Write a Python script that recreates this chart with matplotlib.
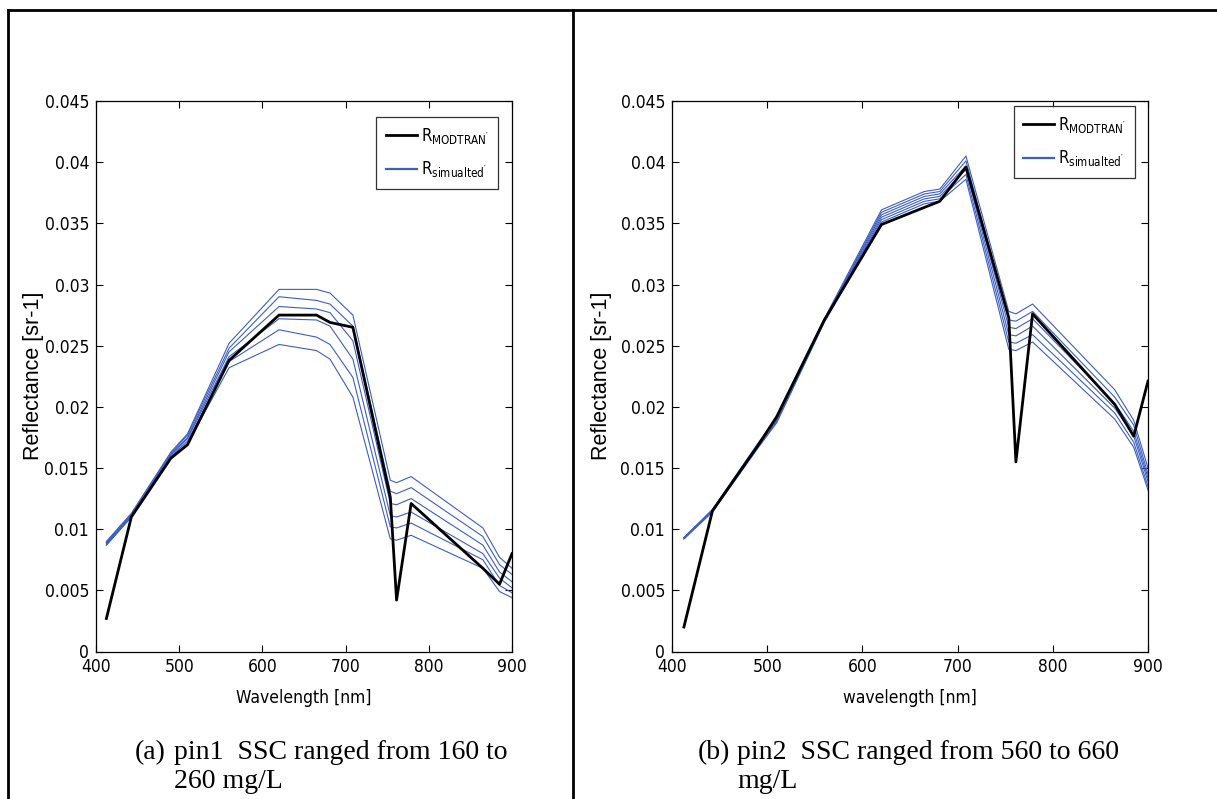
import numpy as np
import matplotlib
matplotlib.use("Agg")
import matplotlib.pyplot as plt
from matplotlib.lines import Line2D
from matplotlib import font_manager
from matplotlib.font_manager import FontProperties

# MERIS band centres [nm]
wavelength = [412.5, 442.5, 490, 510, 560, 620, 665, 681.25, 708.75,
              753.75, 761.25, 778.75, 865, 885, 900]

# pin1: MODTRAN reflectance and simulated curves for SSC 160..260 mg/L
ssc_pin1 = [160, 180, 200, 220, 240, 260]
modtran_pin1 = [0.0027, 0.0110, 0.0158, 0.0169, 0.0238, 0.0275, 0.0275, 0.0269, 0.0265,
                0.0126, 0.0042, 0.0121, 0.0068, 0.0055, 0.0080]
sim_pin1_160 = [0.0087, 0.0110, 0.0158, 0.0170, 0.0232, 0.0251, 0.0246, 0.0239, 0.0208,
                0.0092, 0.0091, 0.0095, 0.0068, 0.0049, 0.0044]
sim_pin1_180 = [0.0087, 0.0110, 0.0159, 0.0172, 0.0237, 0.0263, 0.0257, 0.0251, 0.0224,
                0.0102, 0.0101, 0.0105, 0.0075, 0.0054, 0.0048]
sim_pin1_200 = [0.0088, 0.0111, 0.0160, 0.0174, 0.0241, 0.0272, 0.0271, 0.0266, 0.0239,
                0.0111, 0.0110, 0.0114, 0.0080, 0.0060, 0.0052]
sim_pin1_220 = [0.0089, 0.0112, 0.0161, 0.0175, 0.0245, 0.0282, 0.0280, 0.0277, 0.0254,
                0.0121, 0.0120, 0.0125, 0.0087, 0.0065, 0.0057]
sim_pin1_240 = [0.0089, 0.0112, 0.0162, 0.0177, 0.0248, 0.0290, 0.0287, 0.0284, 0.0266,
                0.0131, 0.0129, 0.0134, 0.0094, 0.0071, 0.0063]
sim_pin1_260 = [0.0090, 0.0113, 0.0163, 0.0178, 0.0252, 0.0296, 0.0296, 0.0293, 0.0275,
                0.0140, 0.0138, 0.0143, 0.0101, 0.0077, 0.0068]

# pin2: SSC 560..660 mg/L
ssc_pin2 = [560, 580, 600, 620, 640, 660]
modtran_pin2 = [0.0020, 0.0115, 0.0168, 0.0192, 0.0271, 0.0349, 0.0363, 0.0368, 0.0396,
                0.0273, 0.0155, 0.0276, 0.0202, 0.0176, 0.0221]
sim_pin2_560 = [0.0092, 0.0114, 0.0166, 0.0187, 0.0269, 0.0351, 0.0366, 0.0368, 0.0386,
                0.0247, 0.0246, 0.0253, 0.0190, 0.0167, 0.0132]
sim_pin2_580 = [0.0092, 0.0115, 0.0167, 0.0188, 0.0270, 0.0353, 0.0368, 0.0370, 0.0390,
                0.0253, 0.0252, 0.0259, 0.0195, 0.0171, 0.0135]
sim_pin2_600 = [0.0093, 0.0115, 0.0168, 0.0189, 0.0270, 0.0355, 0.0370, 0.0372, 0.0394,
                0.0259, 0.0258, 0.0266, 0.0199, 0.0176, 0.0139]
sim_pin2_620 = [0.0093, 0.0115, 0.0168, 0.0190, 0.0271, 0.0357, 0.0372, 0.0374, 0.0397,
                0.0265, 0.0264, 0.0272, 0.0203, 0.0180, 0.0142]
sim_pin2_640 = [0.0093, 0.0116, 0.0169, 0.0190, 0.0271, 0.0359, 0.0374, 0.0376, 0.0401,
                0.0271, 0.0270, 0.0278, 0.0208, 0.0185, 0.0145]
sim_pin2_660 = [0.0093, 0.0116, 0.0170, 0.0191, 0.0272, 0.0361, 0.0376, 0.0378, 0.0405,
                0.0278, 0.0276, 0.0284, 0.0214, 0.0189, 0.0150]

sim_pin1 = [sim_pin1_160, sim_pin1_180, sim_pin1_200, sim_pin1_220, sim_pin1_240, sim_pin1_260]
sim_pin2 = [sim_pin2_560, sim_pin2_580, sim_pin2_600, sim_pin2_620, sim_pin2_640, sim_pin2_660]

xticks = [400, 500, 600, 700, 800, 900]
yticks = [0, 0.005, 0.01, 0.015, 0.02, 0.025, 0.03, 0.035, 0.04, 0.045]
ytick_labels = ["0", "0.005", "0.01", "0.015", "0.02", "0.025", "0.03", "0.035", "0.04", "0.045"]


def find_narrow_font():
    # look for a condensed sans face; fall back to a smaller regular one
    fonts = font_manager.fontManager.ttflist
    for f in fonts:
        if f.name == "Liberation Sans Narrow" and f.weight in (400, "normal") and f.style == "normal":
            return f.fname, 13.5
    for f in fonts:
        if "DejaVu Sans" in f.name and str(f.stretch) == "condensed" \
                and f.weight in (400, "normal") and f.style == "normal":
            return f.fname, 12.5
    return None, 11.5


narrow_file, NARROW_SIZE = find_narrow_font()
if narrow_file:
    NARROW = FontProperties(fname=narrow_file, size=NARROW_SIZE)
else:
    NARROW = FontProperties(family=["Liberation Sans", "DejaVu Sans"], size=NARROW_SIZE)
SANS = ["Liberation Sans", "DejaVu Sans"]
SERIF = ["Liberation Serif", "DejaVu Serif"]

BLUE = "#3d5ec2"
W, H = 1217, 799


def draw_panel(ax, modtran, sims, xlabel, legend_anchor):
    for sim in sims:
        ax.plot(wavelength, sim, color=BLUE, lw=0.8)
    ax.plot(wavelength, modtran, color="black", lw=2.0)
    ax.set_xlim(400, 900)
    ax.set_ylim(0, 0.045)
    ax.set_xticks(xticks)
    ax.set_yticks(yticks)
    ax.set_xticklabels([str(t) for t in xticks], fontproperties=NARROW)
    ax.set_yticklabels(ytick_labels, fontproperties=NARROW)
    ax.tick_params(direction="in", top=True, right=True, length=5, width=0.8, pad=5)
    for s in ax.spines.values():
        s.set_linewidth(0.9)
    ax.set_xlabel(xlabel, fontproperties=NARROW, labelpad=9)
    ax.set_ylabel("Reflectance [sr-1]", family=SANS, fontsize=15.5)
    ax.yaxis.set_label_coords(-0.126, 0.5)

    handles = [Line2D([], [], color="black", lw=2.0),
               Line2D([], [], color=BLUE, lw=1.6)]
    labels = [r"$\mathregular{R_{MODTRAN^{\prime}}}$", r"$\mathregular{R_{simualted^{\prime}}}$"]
    leg_font = NARROW.copy()
    leg_font.set_size(NARROW_SIZE - 0.5)
    leg = ax.legend(handles, labels, loc="upper right", bbox_to_anchor=legend_anchor,
                    frameon=True, fancybox=False, edgecolor="black", prop=leg_font,
                    handlelength=1.9, handletextpad=0.2, borderpad=0.55, labelspacing=0.8,
                    borderaxespad=0)
    leg.get_frame().set_linewidth(0.9)


fig = plt.figure(figsize=(W / 100, H / 100), dpi=100)

ax1 = fig.add_axes([96 / W, 1 - 651.5 / H, (512 - 96) / W, (651.5 - 101) / H])
draw_panel(ax1, modtran_pin1, sim_pin1, "Wavelength [nm]", (0.966, 0.971))
ax1.yaxis.set_label_coords(-0.125, 0.5)

ax2 = fig.add_axes([672 / W, 1 - 651.5 / H, (1148 - 672) / W, (651.5 - 101) / H])
draw_panel(ax2, modtran_pin2, sim_pin2, "wavelength [nm]", (0.973, 0.991))

# table frame around the two sub-figures
frame = dict(color="black", lw=2.0, transform=fig.transFigure)
fig.add_artist(Line2D([8 / W, 1], [1 - 10 / H, 1 - 10 / H], **frame))
fig.add_artist(Line2D([8 / W, 8 / W], [0, 1 - 10 / H], **frame))
fig.add_artist(Line2D([573 / W, 573 / W], [0, 1 - 10 / H], **frame))

# captions
cap = dict(family=SERIF, fontsize=20, va="baseline", ha="left")
fig.text(135 / W, 1 - 759 / H, "(a)", **cap)
fig.text(174 / W, 1 - 759 / H, "pin1  SSC ranged from 160 to", **cap)
fig.text(174 / W, 1 - 788 / H, "260 mg/L", **cap)
fig.text(698 / W, 1 - 759 / H, "(b)", **cap)
fig.text(737 / W, 1 - 759 / H, "pin2  SSC ranged from 560 to 660", **cap)
fig.text(737 / W, 1 - 788 / H, "mg/L", **cap)

fig.savefig("out.png", dpi=100)
